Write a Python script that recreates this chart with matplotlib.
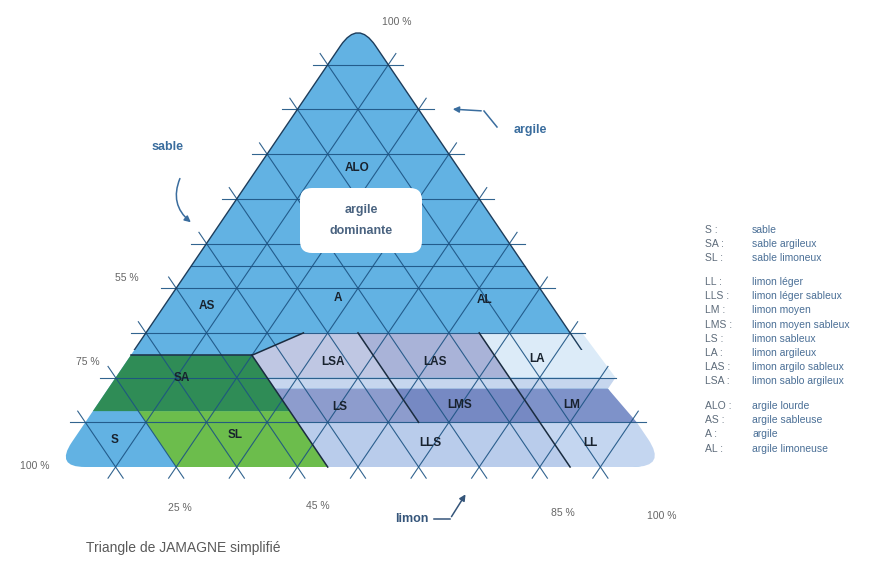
import numpy as np
import matplotlib
matplotlib.use("Agg")
import matplotlib.pyplot as plt
from matplotlib.path import Path
from matplotlib.patches import PathPatch, FancyBboxPatch, Rectangle

plt.rcParams['font.family'] = ['Liberation Sans Narrow', 'Liberation Sans', 'DejaVu Sans']

# --- triangle frame (pixel layout of the drawing) ---
X0, Y0, W, H = 55.0, 467.0, 606.0, 447.0

def P(sand, clay):
    # ternary (sable, argile) -> drawing coords ; limon = 100 - sable - argile
    silt = 100.0 - sand - clay
    return np.array([X0 + W * silt / 100 + W / 2 * clay / 100, Y0 - H * clay / 100])

# --- classes: polygons given as (sable %, argile %) ---
regions = {
    "SA":  [(87.5, 12.5), (55, 12.5), (55, 25), (75, 25)],
    "SL":  [(80, 0), (55, 0), (55, 12.5), (80, 12.5)],
    "GAP": [(55, 17.5), (0, 17.5), (-2.5, 20), (55, 20)],
    "LSA": [(55, 20), (35, 20), (35, 30), (44, 30), (55, 25)],
    "LAS": [(35, 20), (15, 20), (15, 30), (35, 30)],
    "LA":  [(15, 20), (-2.5, 20), (-2, 30), (15, 30)],
    "LS":  [(55, 10), (35, 10), (35, 17.5), (55, 17.5)],
    "LMS": [(35, 10), (15, 10), (15, 17.5), (35, 17.5)],
    "LM":  [(15, 10), (-1, 10), (0, 17.5), (15, 17.5)],
    "LLS": [(55, 0), (15, 0), (15, 10), (55, 10)],
    "LL":  [(15, 0), (-1, 0), (-1, 10), (15, 10)],
}
colors = {
    "SA": "#2f8c56", "SL": "#6cbd4c", "GAP": "#c6d6ee",
    "LSA": "#bfc7e3", "LAS": "#a9b3d8", "LA": "#dcebf8",
    "LS": "#8d9ccd", "LMS": "#7689c3", "LM": "#7e92c9",
    "LLS": "#b9cceb", "LL": "#c4d6f0",
}
# class boundaries drawn darker
boundaries = [
    [(75, 25), (55, 25)],
    [(55, 25), (55, 0)],
    [(55, 25), (44, 30)],
    [(35, 30), (35, 10)],
    [(15, 30), (15, 0)],
]
extra_lines = [[(55, 45), (0, 45)]]
grid_levels = [10, 20, 30, 40, 50, 60, 70, 80, 90]

labels = [("ALO", 357, 168), ("AS", 207, 306), ("A", 338, 298), ("AL", 485, 300),
          ("LSA", 333, 362), ("LAS", 435, 362), ("LA", 537, 359),
          ("SA", 182, 378), ("LS", 340, 407), ("LMS", 460, 405), ("LM", 572, 405),
          ("S", 115, 440), ("SL", 235, 435), ("LLS", 430, 443), ("LL", 590, 443)]

pct_labels = [("100 %", 397, 22), ("55 %", 127, 278), ("75 %", 88, 362), ("100 %", 35, 466),
              ("25 %", 180, 508), ("45 %", 318, 506), ("85 %", 563, 513), ("100 %", 662, 516)]

legend = [
    [("S :", "sable"), ("SA :", "sable argileux"), ("SL :", "sable limoneux")],
    [("LL :", "limon léger"), ("LLS :", "limon léger sableux"), ("LM :", "limon moyen"),
     ("LMS :", "limon moyen sableux"), ("LS :", "limon sableux"), ("LA :", "limon argileux"),
     ("LAS :", "limon argilo sableux"), ("LSA :", "limon sablo argileux")],
    [("ALO :", "argile lourde"), ("AS :", "argile sableuse"), ("A :", "argile"),
     ("AL :", "argile limoneuse")],
]
legend_y0 = [230, 282, 406]


def rounded_path(pts, radii):
    pts = [np.asarray(p, float) for p in pts]
    n = len(pts)
    verts, codes = [], []
    for i in range(n):
        p0, p1, p2 = pts[i - 1], pts[i], pts[(i + 1) % n]
        r = radii[i]
        if r == 0:
            verts.append(p1); codes.append(Path.LINETO)
        else:
            d1 = (p0 - p1) / np.linalg.norm(p0 - p1)
            d2 = (p2 - p1) / np.linalg.norm(p2 - p1)
            verts += [p1 + d1 * r, p1, p1 + d2 * r]
            codes += [Path.LINETO, Path.CURVE3, Path.CURVE3]
    codes[0] = Path.MOVETO
    verts.append(verts[0]); codes.append(Path.CLOSEPOLY)
    return Path(verts, codes)


fig = plt.figure(figsize=(8.88, 5.72), dpi=100)
ax = fig.add_axes([0, 0, 1, 1])
ax.set_xlim(0, 888)
ax.set_ylim(572, 0)
ax.axis("off")

blue = "#62b2e3"
tri = rounded_path([P(0, 100), P(100, 0), P(0, 0)], [31, 30, 30])
ax.add_patch(PathPatch(tri, facecolor=blue, edgecolor="none", zorder=1))
outline = PathPatch(tri, facecolor="none", edgecolor="#1d3d5c", lw=1.0, zorder=4)
ax.add_patch(outline)
outline.set_clip_path(Rectangle((0, 0), 888, 350, transform=ax.transData))

for name, poly in regions.items():
    pts = [P(s, c) for s, c in poly]
    radii = [0] * len(pts)
    if name == "LL":
        radii[1] = 34
    ax.add_patch(PathPatch(rounded_path(pts, radii), facecolor=colors[name],
                           edgecolor="none", zorder=2))

e = 2.5
gcol = "#1c5383"
for v in grid_levels:
    for a, b in [((100 - v + e, v), (-e, v)),
                 ((100 - v + e, -e), (-e, 100 - v + e)),
                 ((v, -e), (v, 100 - v + e))]:
        pa, pb = P(*a), P(*b)
        ax.plot([pa[0], pb[0]], [pa[1], pb[1]], color=gcol, lw=0.8, alpha=0.9, zorder=3)
for seg in extra_lines:
    pa, pb = P(*seg[0]), P(*seg[1])
    ax.plot([pa[0], pb[0]], [pa[1], pb[1]], color=gcol, lw=0.8, alpha=0.9, zorder=3)
for seg in boundaries:
    pa, pb = P(*seg[0]), P(*seg[1])
    ax.plot([pa[0], pb[0]], [pa[1], pb[1]], color="#1a2c40", lw=1.1, zorder=3.5)

# "argile dominante" box
ax.add_patch(FancyBboxPatch((310, 198), 102, 45, boxstyle="round,pad=0,rounding_size=11",
                            facecolor="white", edgecolor="none", zorder=5))
ax.add_patch(FancyBboxPatch((300, 188), 122, 65, boxstyle="round,pad=0,rounding_size=12",
                            facecolor="white", edgecolor="none", zorder=5))
ax.text(361, 210, "argile", ha="center", va="center", fontsize=9, fontweight="bold",
        color="#4a6380", zorder=6)
ax.text(361, 231, "dominante", ha="center", va="center", fontsize=9, fontweight="bold",
        color="#4a6380", zorder=6)

for txt, x, y in labels:
    ax.text(x, y, txt, ha="center", va="center", fontsize=8.5, fontweight="bold",
            color="#18222e", zorder=6)

for txt, x, y in pct_labels:
    ax.text(x, y, txt, ha="center", va="center", fontsize=7.5, color="#666666", zorder=6)

# axis names with arrows
acol = "#3a6d9e"
ax.text(168, 147, "sable", ha="center", va="center", fontsize=9, fontweight="bold", color=acol)
ax.annotate("", xy=(193, 224), xytext=(181, 176),
            arrowprops=dict(arrowstyle="-|>", color=acol, lw=1.1, mutation_scale=9,
                            connectionstyle="arc3,rad=0.4"))
ax.text(530, 130, "argile", ha="center", va="center", fontsize=9, fontweight="bold", color=acol)
ax.plot([497, 484], [127, 111], color=acol, lw=1.1)
ax.annotate("", xy=(450, 109), xytext=(484, 111),
            arrowprops=dict(arrowstyle="-|>", color=acol, lw=1.1, mutation_scale=9))
lcol = "#35557a"
ax.text(412, 519, "limon", ha="center", va="center", fontsize=9, fontweight="bold", color=lcol)
ax.plot([434, 450], [519, 519], color=lcol, lw=1.1)
ax.annotate("", xy=(467, 492), xytext=(450, 519),
            arrowprops=dict(arrowstyle="-|>", color=lcol, lw=1.1, mutation_scale=9))

# legend
for group, y0 in zip(legend, legend_y0):
    for i, (ab, desc) in enumerate(group):
        y = y0 + i * 14.2
        ax.text(705, y, ab, ha="left", va="center", fontsize=7.5, color="#5d6b7a")
        ax.text(752, y, desc, ha="left", va="center", fontsize=7.5, color="#4a6f96")

ax.text(86, 548, "Triangle de JAMAGNE simplifié", ha="left", va="center", fontsize=10,
        color="#5a5a5a")

fig.savefig("out.png", dpi=100)
